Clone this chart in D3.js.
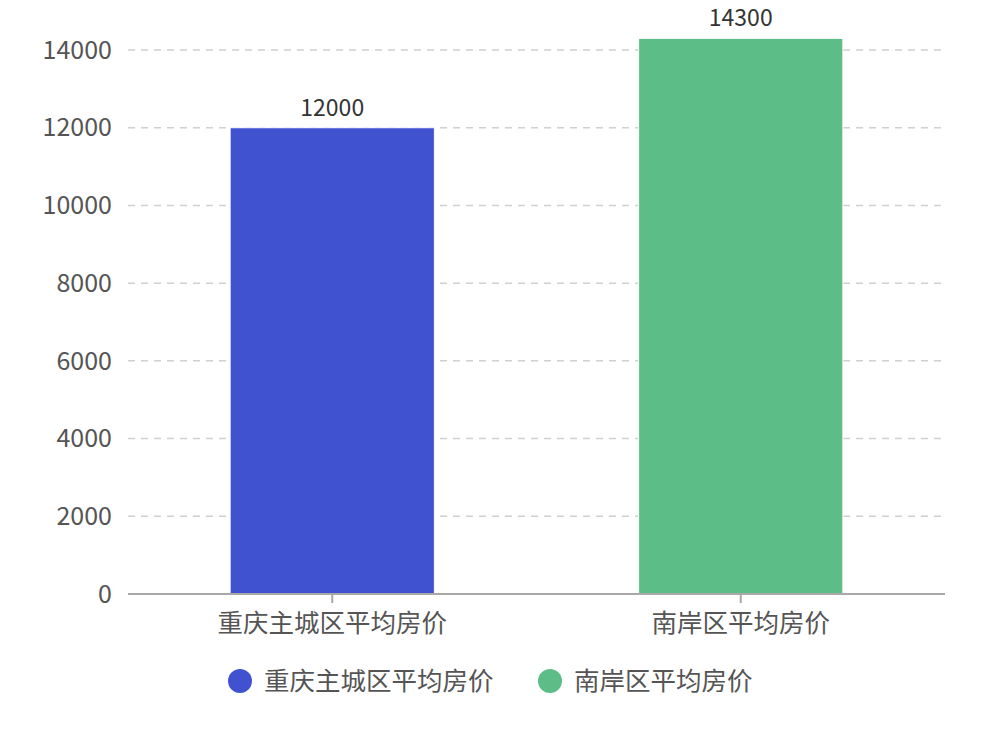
<!DOCTYPE html>
<html>
<head>
<meta charset="utf-8">
<script src="https://cdn.jsdelivr.net/npm/d3@7"></script>
<style>
  html, body { margin: 0; padding: 0; background: #fff; }
  svg { display: block; font-family: "Noto Sans CJK SC", "Noto Sans", sans-serif; }
</style>
</head>
<body>
<svg id="chart" width="986" height="734"></svg>
<script>
// Data
const categories = ["重庆主城区平均房价", "南岸区平均房价"];
const values = [12000, 14300];
const colors = ["#4152D1", "#5DBD86"];
const yTicks = [0, 2000, 4000, 6000, 8000, 10000, 12000, 14000];

// Layout
const svg = d3.select("#chart");
const margin = { left: 128, right: 41, top: 50, bottom: 140 };
const width = 986, height = 734;
const plotW = width - margin.left - margin.right;
const plotBottom = 594;

const x = d3.scaleBand()
    .domain(categories)
    .range([margin.left, margin.left + plotW])
    .paddingInner(0.5)
    .paddingOuter(0.25);

const y = d3.scaleLinear()
    .domain([0, 14000])
    .range([plotBottom, margin.top]);

// Grid lines
svg.append("g")
    .selectAll("line")
    .data(yTicks.filter(d => d > 0))
    .enter()
    .append("line")
    .attr("x1", margin.left)
    .attr("x2", margin.left + plotW)
    .attr("y1", d => y(d))
    .attr("y2", d => y(d))
    .attr("stroke", "#d0d0d0")
    .attr("stroke-width", 1.5)
    .attr("stroke-dasharray", "7,6");

// Y axis labels
svg.append("g")
    .selectAll("text")
    .data(yTicks)
    .enter()
    .append("text")
    .attr("x", margin.left - 16)
    .attr("y", d => y(d))
    .attr("dy", "0.35em")
    .attr("text-anchor", "end")
    .attr("font-size", 25)
    .attr("fill", "#555")
    .text(d => d);

// Bars
svg.append("g")
    .selectAll("rect")
    .data(values)
    .enter()
    .append("rect")
    .attr("x", (d, i) => x(categories[i]))
    .attr("width", x.bandwidth())
    .attr("y", d => y(d))
    .attr("height", d => plotBottom - y(d))
    .attr("fill", (d, i) => colors[i])
    .attr("stroke", "#fff")
    .attr("stroke-width", 1);

// Bar value labels
svg.append("g")
    .selectAll("text")
    .data(values)
    .enter()
    .append("text")
    .attr("x", (d, i) => x(categories[i]) + x.bandwidth() / 2)
    .attr("y", d => y(d) - 12)
    .attr("text-anchor", "middle")
    .attr("font-size", 23)
    .attr("fill", "#333")
    .text(d => d);

// X axis line + ticks
svg.append("line")
    .attr("x1", margin.left)
    .attr("x2", margin.left + plotW)
    .attr("y1", plotBottom)
    .attr("y2", plotBottom)
    .attr("stroke", "#a8a8a8")
    .attr("stroke-width", 2);

const xg = svg.append("g");
xg.selectAll("line")
    .data(categories)
    .enter()
    .append("line")
    .attr("x1", d => x(d) + x.bandwidth() / 2)
    .attr("x2", d => x(d) + x.bandwidth() / 2)
    .attr("y1", plotBottom)
    .attr("y2", plotBottom + 9)
    .attr("stroke", "#a8a8a8")
    .attr("stroke-width", 2);

xg.selectAll("text")
    .data(categories)
    .enter()
    .append("text")
    .attr("x", d => x(d) + x.bandwidth() / 2)
    .attr("y", plotBottom + 38)
    .attr("text-anchor", "middle")
    .attr("font-size", 25.5)
    .attr("fill", "#555")
    .text(d => d);

// Legend
const legendX = [240, 550];
const legend = svg.append("g");
const items = legend.selectAll("g")
    .data(categories)
    .enter()
    .append("g")
    .attr("transform", (d, i) => `translate(${legendX[i]},681)`);

items.append("circle")
    .attr("r", 12)
    .attr("fill", (d, i) => colors[i]);

items.append("text")
    .attr("x", 24)
    .attr("dy", "0.36em")
    .attr("font-size", 25.5)
    .attr("fill", "#555")
    .text(d => d);
</script>
</body>
</html>
